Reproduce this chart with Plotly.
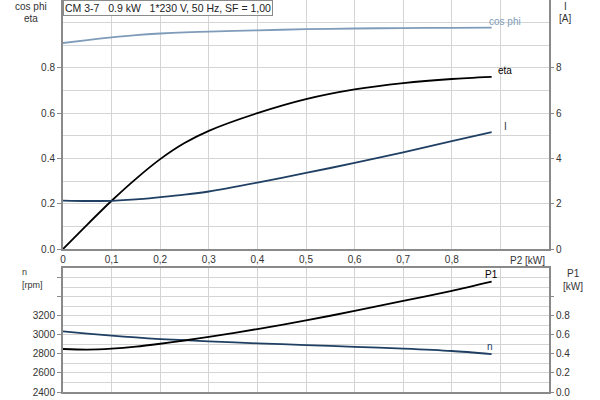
import plotly.graph_objects as go

# ---- data ----
p2 = [0, 0.05, 0.1, 0.15, 0.2, 0.25, 0.3, 0.4, 0.5, 0.6, 0.7, 0.8, 0.882]
cos_phi = [0.910, 0.923, 0.935, 0.945, 0.952, 0.957, 0.960, 0.966, 0.971, 0.974, 0.976, 0.977, 0.978]
eta = [0.0, 0.108, 0.213, 0.310, 0.397, 0.468, 0.522, 0.600, 0.662, 0.705, 0.733, 0.751, 0.760]
current_a = [2.14, 2.12, 2.13, 2.19, 2.29, 2.40, 2.54, 2.93, 3.36, 3.80, 4.27, 4.77, 5.16]
speed_rpm = [3035, 3012, 2990, 2972, 2955, 2943, 2931, 2910, 2892, 2874, 2855, 2830, 2798]
p1_kw = [0.451, 0.445, 0.455, 0.476, 0.506, 0.540, 0.578, 0.660, 0.750, 0.850, 0.955, 1.060, 1.156]

x_ticks = [0, 0.1, 0.2, 0.3, 0.4, 0.5, 0.6, 0.7, 0.8, 0.9]
x_labels = ["0", "0,1", "0,2", "0,3", "0,4", "0,5", "0,6", "0,7", "0,8", ""]
x_unit_tick = [0.9]
eta_ticks = [0, 0.2, 0.4, 0.6, 0.8]
eta_labels = ["0.0", "0.2", "0.4", "0.6", "0.8"]
i_ticks = [0, 2, 4, 6, 8]
n_ticks = [2400, 2600, 2800, 3000, 3200, 3400, 3600]
n_labels = ["2400", "2600", "2800", "3000", "3200", "", ""]
p1_ticks = [0, 0.2, 0.4, 0.6, 0.8, 1.0]
p1_labels = ["0.0", "0.2", "0.4", "0.6", "0.8", ""]

title_text = "CM 3-7\u00a0\u00a0\u00a00.9 kW\u00a0\u00a0\u00a01*230 V, 50 Hz, SF = 1,00"

C_COS = "#7f9cba"
C_BLUE = "#1f3f63"
C_BLACK = "#000000"
GRID = "#d4d4d4"
AXC = "#8a8a8a"
TXT = "#333333"
FONT = "Liberation Sans, Arial, sans-serif"

line_style = dict(width=1.8, shape="spline", smoothing=0.8)

fig = go.Figure()
fig.add_trace(go.Scatter(x=p2, y=cos_phi, mode="lines", line=dict(color=C_COS, **line_style),
                         xaxis="x", yaxis="y", showlegend=False, hoverinfo="skip"))
fig.add_trace(go.Scatter(x=p2, y=eta, mode="lines", line=dict(color=C_BLACK, **line_style),
                         xaxis="x", yaxis="y", showlegend=False, hoverinfo="skip"))
fig.add_trace(go.Scatter(x=p2, y=current_a, mode="lines", line=dict(color=C_BLUE, **line_style),
                         xaxis="x", yaxis="y2", showlegend=False, hoverinfo="skip"))
fig.add_trace(go.Scatter(x=p2, y=speed_rpm, mode="lines", line=dict(color=C_BLUE, **line_style),
                         xaxis="x2", yaxis="y3", showlegend=False, hoverinfo="skip"))
fig.add_trace(go.Scatter(x=p2, y=p1_kw, mode="lines", line=dict(color=C_BLACK, **line_style),
                         xaxis="x2", yaxis="y4", showlegend=False, hoverinfo="skip"))

tickfont = dict(family=FONT, size=10, color=TXT)
common_x = dict(range=[0, 1.0], domain=[63 / 600, 549 / 600], showgrid=True, gridcolor=GRID, gridwidth=1,
                showline=True, linecolor=AXC, linewidth=2, mirror=True, zeroline=False, automargin=False,
                tickmode="array", tickvals=x_ticks, tickfont=tickfont, fixedrange=True)

fig.update_layout(
    width=600, height=400, margin=dict(l=0, r=0, t=0, b=0, autoexpand=False),
    paper_bgcolor="white", plot_bgcolor="white",
    font=dict(family=FONT, size=10, color=TXT),
    xaxis=dict(**common_x, ticktext=x_labels, anchor="y", ticks=""),
    xaxis2=dict(**common_x, ticktext=[""] * len(x_ticks), showticklabels=False, anchor="y3", ticks=""),
    xaxis3=dict(range=[0, 1.0], overlaying="x", anchor="y", side="bottom", automargin=False,
                tickmode="array", tickvals=x_unit_tick, ticktext=[""], ticks="outside", ticklen=4,
                tickcolor="#555555", showgrid=False, showline=False, zeroline=False, fixedrange=True),
    yaxis=dict(range=[0, 1.1], domain=[1 - 249 / 400, 1.0], anchor="x", automargin=False,
               tickmode="array", tickvals=eta_ticks, ticktext=eta_labels,
               ticks="outside", ticklen=4, tickcolor=AXC, tickfont=tickfont,
               showgrid=True, gridcolor=GRID, minor=dict(dtick=0.1, tick0=0, showgrid=True, gridcolor=GRID, ticks=""),
               showline=True, linecolor=AXC, linewidth=2, mirror=True, zeroline=False, fixedrange=True),
    yaxis2=dict(range=[0, 11], overlaying="y", side="right", anchor="x", automargin=False,
                tickmode="array", tickvals=i_ticks, ticks="outside", ticklen=4, tickcolor=AXC,
                tickfont=tickfont, showgrid=False, zeroline=False, showline=False, fixedrange=True),
    yaxis3=dict(range=[2400, 3700], domain=[1 - 392 / 400, 1 - 268 / 400], anchor="x2", automargin=False,
                tickmode="array", tickvals=n_ticks, ticktext=n_labels,
                ticks="outside", ticklen=4, tickcolor=AXC, tickfont=tickfont,
                showgrid=True, gridcolor=GRID, minor=dict(dtick=100, tick0=2400, showgrid=True, gridcolor=GRID, ticks=""),
                showline=True, linecolor=AXC, linewidth=2, mirror=True, zeroline=False, fixedrange=True),
    yaxis4=dict(range=[0, 1.3], overlaying="y3", side="right", anchor="x2", automargin=False,
                tickmode="array", tickvals=p1_ticks, ticktext=p1_labels,
                ticks="outside", ticklen=4, tickcolor=AXC, tickfont=tickfont,
                showgrid=False, zeroline=False, showline=False, fixedrange=True),
)

def ann(text, x, y, xanchor="center", yanchor="middle", color=TXT, size=10, xref="paper", yref="paper", **kw):
    fig.add_annotation(text=text, x=x, y=y, xref=xref, yref=yref, xanchor=xanchor, yanchor=yanchor,
                       showarrow=False, font=dict(family=FONT, size=size, color=color), **kw)

def px(xp):
    return xp / 600

def py(yp):
    return 1 - yp / 400

# title box
ann(title_text, px(63), py(0), xanchor="left", yanchor="top", size=10.5, color="#222222",
    bgcolor="white", bordercolor=AXC, borderwidth=1, borderpad=1)

# axis titles
ann("cos phi", px(31), py(6), color=TXT)
ann("eta", px(31), py(18), color=TXT)
ann("I", px(565), py(0), yanchor="top", color=TXT, borderpad=0)
ann("[A]", px(565), py(19), color=TXT, borderpad=0)
ann("P2 [kW]", px(527), py(260), color=TXT)
ann("n", px(20), py(272), xanchor="left", color=TXT, size=9)
ann("[rpm]", px(20), py(285), xanchor="left", color=TXT, size=9)
ann("P1", px(573), py(273), color=TXT)
ann("[kW]", px(573), py(286), color=TXT)

# curve labels
ann("cos phi", 0.909, 1.004, xref="x", yref="y", color=C_COS)
ann("eta", 0.909, 0.788, xref="x", yref="y", color=C_BLACK)
ann("I", 0.911, 0.54, xref="x", yref="y", color=TXT)
ann("P1", 0.881, 3627, xref="x2", yref="y3", color=C_BLACK)
ann("n", 0.879, 2872, xref="x2", yref="y3", color=C_BLUE)

fig.write_html("out.html", config={"displayModeBar": False, "staticPlot": True},
               post_script="document.body.style.margin='0';document.body.style.overflow='hidden';")
